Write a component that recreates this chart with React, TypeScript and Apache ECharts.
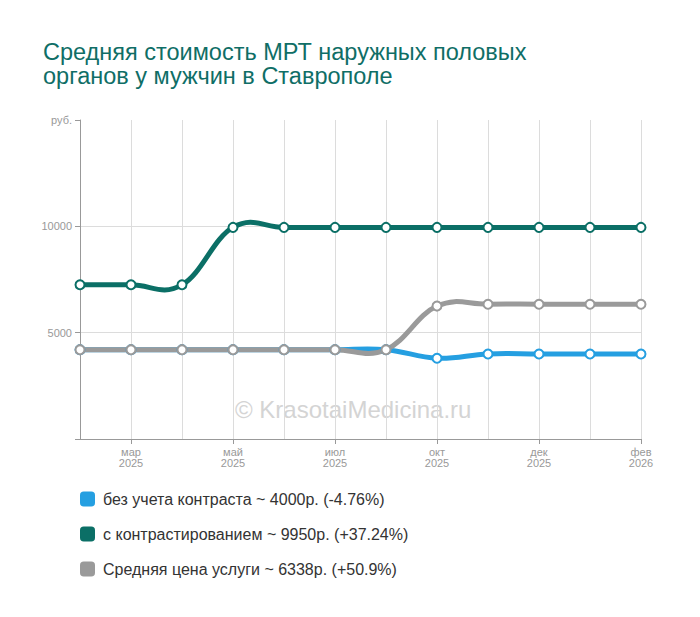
import React, { useEffect, useRef } from "react";
import * as echarts from "echarts";

const categories = [
  "фев\n2025", "мар\n2025", "апр\n2025", "май\n2025", "июн\n2025", "июл\n2025",
  "сен\n2025", "окт\n2025", "ноя\n2025", "дек\n2025", "янв\n2026", "фев\n2026",
];
const seriesNames = [
  "без учета контраста ~ 4000р. (-4.76%)",
  "с контрастированием ~ 9950р. (+37.24%)",
  "Средняя цена услуги ~ 6338р. (+50.9%)",
];
const withoutContrast = [4200, 4200, 4200, 4200, 4200, 4200, 4200, 3800, 4000, 4000, 4000, 4000];
const withContrast = [7250, 7250, 7250, 9950, 9950, 9950, 9950, 9950, 9950, 9950, 9950, 9950];
const averagePrice = [4200, 4200, 4200, 4200, 4200, 4200, 4200, 6250, 6338, 6338, 6338, 6338];
const colors = ["#259fe1", "#0b6f66", "#9a9a9a"];
const titleText = "Средняя стоимость МРТ наружных половых\nорганов у мужчин в Ставрополе";
const watermark = "© KrasotaiMedicina.ru";

type P = [number, number];

function splineSegment(pts: P[], i: number) {
  // Highcharts-like spline (unclamped), segment from pts[i-1] to pts[i]
  const sm = 1.5;
  const den = sm + 1;
  const conts = (k: number) => {
    const p = pts[k];
    const prev = pts[k - 1];
    const next = pts[k + 1];
    if (!prev || !next) return { l: p, r: p };
    let lx = (sm * p[0] + prev[0]) / den;
    let ly = (sm * p[1] + prev[1]) / den;
    let rx = (sm * p[0] + next[0]) / den;
    let ry = (sm * p[1] + next[1]) / den;
    if (rx !== lx) {
      const c = ((ry - ly) * (rx - p[0])) / (rx - lx) + p[1] - ry;
      ly += c;
      ry += c;
    }
    return { l: [lx, ly] as P, r: [rx, ry] as P };
  };
  const a = conts(i - 1);
  const b = conts(i);
  return {
    x1: pts[i - 1][0], y1: pts[i - 1][1],
    cpx1: a.r[0], cpy1: a.r[1],
    cpx2: b.l[0], cpy2: b.l[1],
    x2: pts[i][0], y2: pts[i][1],
  };
}

export default function App() {
  const ref = useRef<HTMLDivElement>(null);
  useEffect(() => {
    document.body.style.margin = "0";
    const chart = echarts.init(ref.current!, null, { renderer: "svg" });
    const font = "Liberation Sans, Arial, sans-serif";
    const data = [withoutContrast, withContrast, averagePrice];
    const curveSeries = data.map((vals, s) => ({
      name: "curve" + s,
      type: "custom",
      data: vals.map((v, i) => [i, v]),
      z: 2 + s,
      silent: true,
      renderItem: (params: any, api: any) => {
        const i = params.dataIndex;
        if (i === 0) return { type: "group", children: [] };
        const pts: P[] = vals.map((v, k) => api.coord([k, v]) as P);
        return {
          type: "bezierCurve",
          shape: splineSegment(pts, i),
          style: { stroke: colors[s], lineWidth: 5, fill: "none", lineCap: "round" },
        };
      },
    }));
    chart.setOption({
      animation: false,
      textStyle: { fontFamily: font },
      title: {
        text: titleText,
        left: 38,
        top: 35,
        textStyle: { color: "#0f6e66", fontSize: 23.5, fontWeight: "normal", lineHeight: 24, fontFamily: font },
      },
      graphic: [
        {
          type: "text",
          left: 235,
          top: 397,
          z: -1,
          silent: true,
          style: { text: watermark, fill: "#d4d4d4", font: `24px ${font}` },
        },
      ],
      legend: {
        orient: "vertical",
        left: 75,
        top: 486,
        padding: 5,
        itemWidth: 15,
        itemHeight: 15,
        itemGap: 19,
        icon: "roundRect",
        itemStyle: { borderWidth: 0 },
        textStyle: { fontSize: 16, color: "#333", fontFamily: font, padding: [0, 0, 0, 3] },
        data: seriesNames,
      },
      grid: { left: 80, right: 59, top: 120, bottom: 178, containLabel: false },
      xAxis: {
        type: "category",
        boundaryGap: false,
        data: categories,
        axisLine: { lineStyle: { color: "#999", width: 1 } },
        axisTick: { show: true, length: 5, interval: (i: number) => i % 2 === 1, lineStyle: { color: "#999" } },
        axisLabel: {
          interval: (i: number) => i % 2 === 1,
          color: "#999",
          fontSize: 11,
          lineHeight: 11,
          margin: 7,
          fontFamily: font,
        },
        splitLine: { show: true, interval: 0, lineStyle: { color: "#dcdcdc" } },
      },
      yAxis: {
        type: "value",
        min: 0,
        max: 15000,
        interval: 5000,
        axisLine: { show: true, lineStyle: { color: "#999" } },
        axisTick: { show: true, length: 5, lineStyle: { color: "#999" } },
        axisLabel: {
          color: "#999",
          fontSize: 11,
          margin: 8,
          fontFamily: font,
          formatter: (v: number) => (v === 0 ? "" : v === 15000 ? "руб." : String(v)),
        },
        splitLine: { show: true, lineStyle: { color: ["#ffffff", "#dcdcdc", "#dcdcdc", "#ffffff"] } },
      },
      series: [
        ...curveSeries,
        ...seriesNames.map((name, i) => ({
          name,
          type: "line",
          data: data[i],
          symbol: "emptyCircle",
          symbolSize: 9,
          color: colors[i],
          lineStyle: { width: 0, opacity: 0, color: colors[i] },
          itemStyle: { color: colors[i], borderWidth: 1.5 },
          z: 10 + i,
        })),
      ],
    });
    return () => chart.dispose();
  }, []);
  return <div ref={ref} style={{ width: 700, height: 617 }} />;
}
